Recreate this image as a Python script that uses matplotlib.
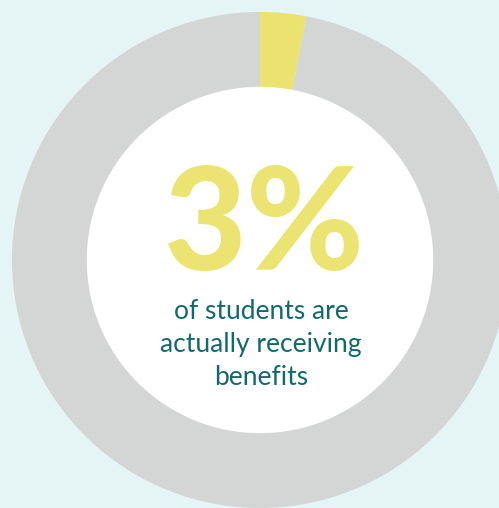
import matplotlib
matplotlib.use("Agg")
from matplotlib import pyplot as plt

shares = [3, 97]
colors = ["#ebe370", "#d4d5d5"]
big_label = "3%"
caption = ["of students are", "actually receiving", "benefits"]

W, H = 499, 508
fig = plt.figure(figsize=(W / 100, H / 100), dpi=100)
fig.patch.set_facecolor("#e5f4f5")
ax = fig.add_axes([0, 0, 1, 1])
ax.set_facecolor("#e5f4f5")

cx, cy = 260, H - 260
ax.pie(shares, colors=colors, startangle=90, counterclock=False,
       center=(cx, cy), radius=248,
       wedgeprops=dict(width=76, linewidth=0))
ax.add_patch(plt.Circle((cx, cy), 172.5, color="white", zorder=3))

ax.set_xlim(0, W)
ax.set_ylim(0, H)
ax.set_aspect("auto")
ax.axis("off")

ax.text(264, H - 270, big_label, ha="center", va="baseline",
        fontsize=103, fontweight="black", family="Lato",
        color="#ece472", zorder=4)

baselines = [319, 352, 385]
for line, yb in zip(caption, baselines):
    ax.text(cx + 1, H - yb, line, ha="center", va="baseline",
            fontsize=19, family="Lato", color="#12696c", zorder=4)

fig.savefig("out.png", dpi=100, facecolor=fig.get_facecolor())
